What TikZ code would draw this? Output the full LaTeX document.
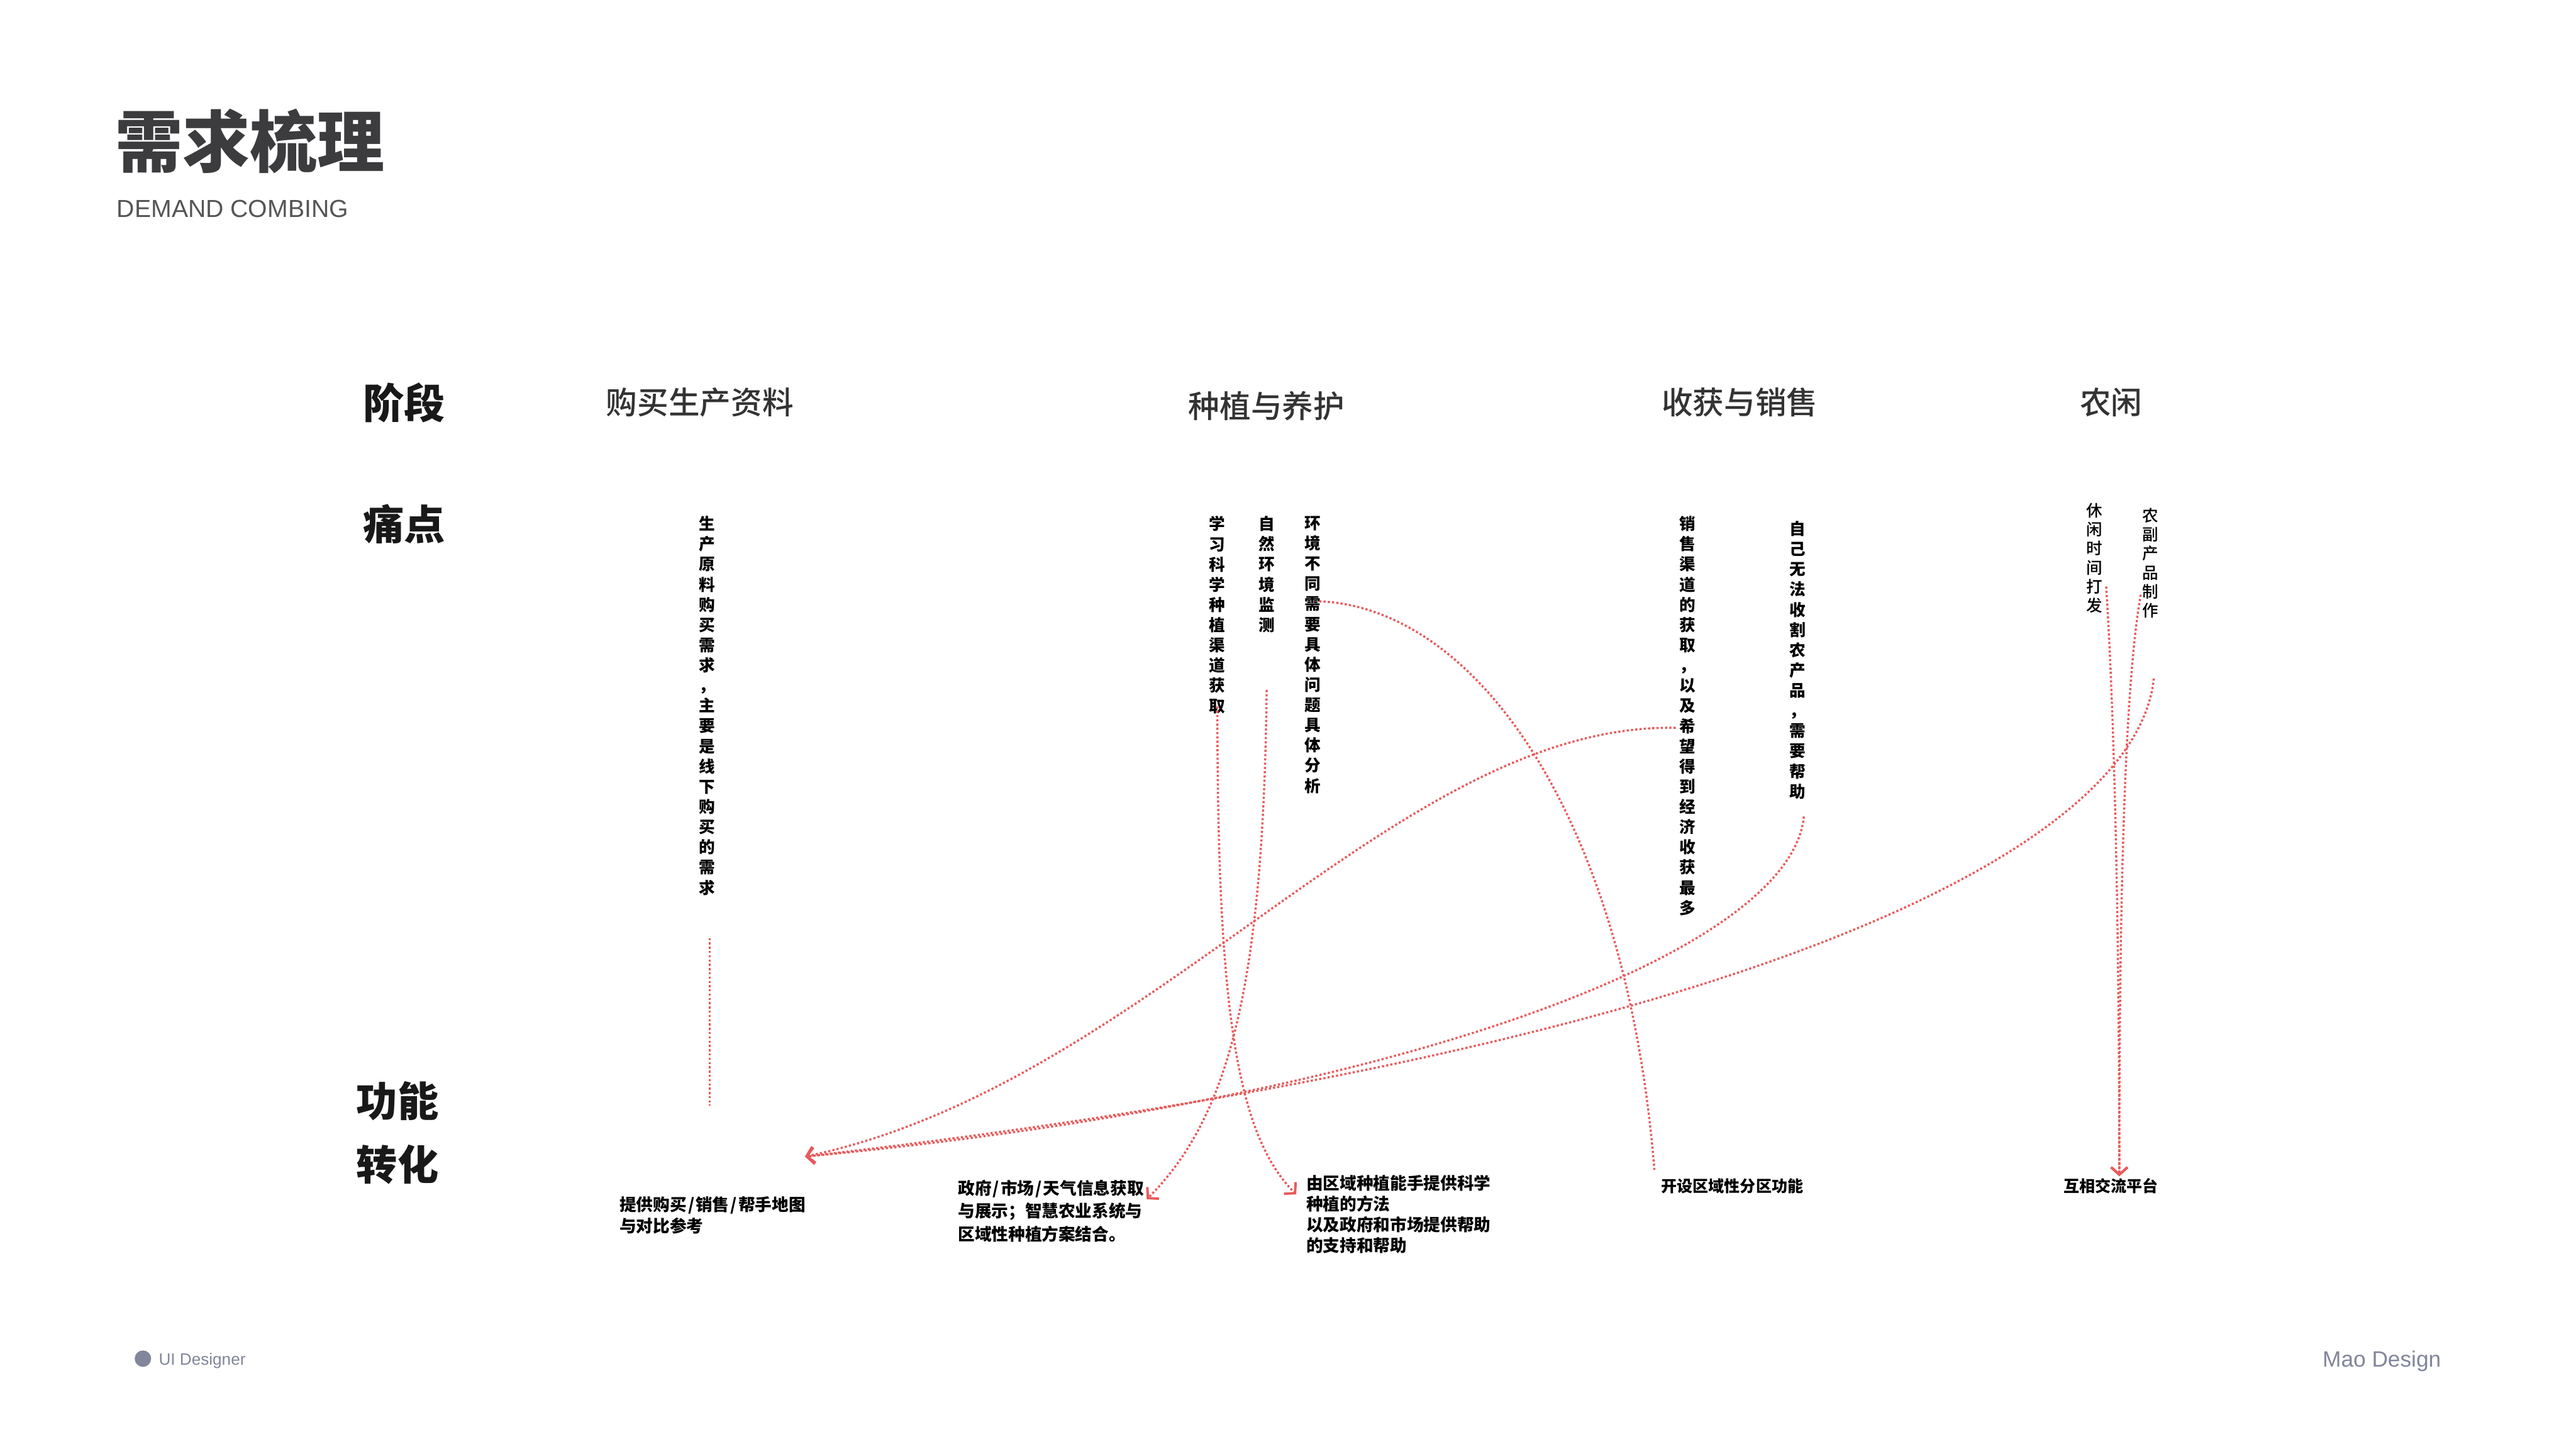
\documentclass[tikz,border=0pt]{standalone}
\usepackage{fontspec}
\setmainfont{Noto Sans CJK SC}
\newfontfamily\lat{Liberation Sans}
\IfFontExistsTF{Noto Sans CJK SC Medium}{\newfontfamily\cjkmed{Noto Sans CJK SC Medium}}{\newfontfamily\cjkmed{Noto Sans CJK SC}}
\usetikzlibrary{arrows.meta}
\definecolor{linkred}{HTML}{E85A5A}
\definecolor{titlegray}{HTML}{3C3C3F}
\definecolor{subgray}{HTML}{555555}
\definecolor{headgray}{HTML}{333333}
\definecolor{footgray}{HTML}{82869A}
\newcommand\slsep{\kern0.8pt/\kern0.8pt}
\ExplSyntaxOn
\NewDocumentCommand\vstack{m}{
  \seq_clear:N \l_tmpa_seq
  \tl_map_inline:nn {#1} { \seq_put_right:Nn \l_tmpa_seq {##1} }
  \seq_use:Nn \l_tmpa_seq {\\}
}
\ExplSyntaxOff
\tikzset{
  vt/.style={anchor=north, inner sep=0pt, align=center, font=\fontsize{9.8}{12.3}\selectfont\bfseries},
  vtl/.style={anchor=north, inner sep=0pt, align=center, font=\fontsize{9.8}{11.6}\selectfont\cjkmed},
  ft/.style={anchor=north west, inner sep=0pt, align=left, font=\fontsize{10.2}{12.7}\selectfont\bfseries},
  fts/.style={anchor=north west, inner sep=0pt, align=left, font=\fontsize{9.6}{12.7}\selectfont\bfseries},
  rowhead/.style={inner sep=0pt, font=\fontsize{25}{25}\selectfont\bfseries, text=black!90},
  stagehead/.style={inner sep=0pt, font=\fontsize{19}{19}\selectfont\cjkmed, text=headgray},
  link/.style={draw=linkred, line width=1.3pt, dash pattern=on 1.3pt off 1.3pt},
  arr/.style={-{Straight Barb[length=4.5pt,width=10pt,line width=1.5pt]}}
}
\begin{document}
\begin{tikzpicture}[x=1pt,y=-1pt]
\useasboundingbox[fill=white] (0,0) rectangle (1568,882);

% title
\node[anchor=west, inner sep=0pt, font=\fontsize{41}{41}\selectfont\bfseries, text=titlegray] (title) at (70,86) {需求梳理};
\node[anchor=west, inner sep=0pt, font=\lat\fontsize{15}{15}\selectfont, text=subgray] (subtitle) at (71,127) {DEMAND COMBING};

% row heads
\node[rowhead] (stage) at (246,245) {阶段};
\node[rowhead] (pain) at (246,319) {痛点};
\node[rowhead] (func1) at (242,670) {功能};
\node[rowhead] (func2) at (242,709) {转化};

% stage heads
\node[stagehead] (h1) at (426,245) {购买生产资料};
\node[stagehead] (h2) at (771,247) {种植与养护};
\node[stagehead] (h3) at (1059,245) {收获与销售};
\node[stagehead] (h4) at (1285,245) {农闲};

% pain points (vertical)
\node[vt] (p1) at (430.5,314) {\vstack{生产原料购买需求，主要是线下购买的需求}};
\node[vt] (p2) at (741,314) {\vstack{学习科学种植渠道获取}};
\node[vt] (p3) at (771,314) {\vstack{自然环境监测}};
\node[vt] (p4) at (799,314) {\vstack{环境不同需要具体问题具体分析}};
\node[vt] (p5) at (1027,314) {\vstack{销售渠道的获取，以及希望得到经济收获最多}};
\node[vt] (p6) at (1094,317) {\vstack{自己无法收割农产品，需要帮助}};
\node[vtl] (p7) at (1275,306) {\vstack{休闲时间打发}};
\node[vtl] (p8) at (1309,309) {\vstack{农副产品制作}};

% functions
\node[ft, font=\fontsize{10.2}{13}\selectfont\bfseries] (f1) at (377,728) {提供购买\slsep 销售\slsep 帮手地图\\与对比参考};
\node[ft, font=\fontsize{10.2}{14}\selectfont\bfseries] (f2) at (583,718) {政府\slsep 市场\slsep 天气信息获取\\与展示；智慧农业系统与\\区域性种植方案结合。};
\node[ft] (f3) at (795,715) {由区域种植能手提供科学\\种植的方法\\以及政府和市场提供帮助\\的支持和帮助};
\node[fts] (f4) at (1011,717) {开设区域性分区功能};
\node[fts] (f5) at (1256,717) {互相交流平台};

% connector end points
\coordinate (s1) at (432,571); \coordinate (e1) at (432,673);
\coordinate (s2) at (741,430); \coordinate (e2) at (789,727);
\coordinate (s3) at (771,420); \coordinate (e3) at (698,730);
\coordinate (s4) at (803,366); \coordinate (e4) at (1007,712);
\coordinate (s5) at (1020,443); \coordinate (hub) at (490,704);
\coordinate (s6) at (1098,497);
\coordinate (s7) at (1311,413);
\coordinate (s8) at (1282,357); \coordinate (hub2) at (1290,716);
\coordinate (s9) at (1303,362);

\draw[link] (s1) -- (e1);
\draw[link,arr] (s2) .. controls (741,610) and (752,690) .. (e2);
\draw[link,arr] (s3) .. controls (769,600) and (748,680) .. (e3);
\draw[link] (s4) .. controls (900,370) and (990,500) .. (e4);
\draw[link,arr] (s5) .. controls (850,440) and (700,660) .. (hub);
\draw[link,arr] (s6) .. controls (1090,580) and (850,670) .. (hub);
\draw[link,arr] (s7) .. controls (1300,520) and (1050,640) .. (hub);
\draw[link,arr] (s8) .. controls (1288,450) and (1290,600) .. (hub2);
\draw[link,arr] (s9) .. controls (1293,420) and (1290,550) .. (hub2);

% footer
\node[circle, fill=footgray, inner sep=0pt, minimum size=10pt] (dot) at (87,827) {};
\node[anchor=base west, inner sep=0pt, font=\lat\fontsize{10}{10}\selectfont, text=footgray] (ui) at (96.5,831) {UI Designer};
\node[anchor=base east, inner sep=0pt, font=\lat\fontsize{13.5}{13.5}\selectfont, text=footgray] (mao) at (1486,832) {Mao Design};
\end{tikzpicture}
\end{document}
